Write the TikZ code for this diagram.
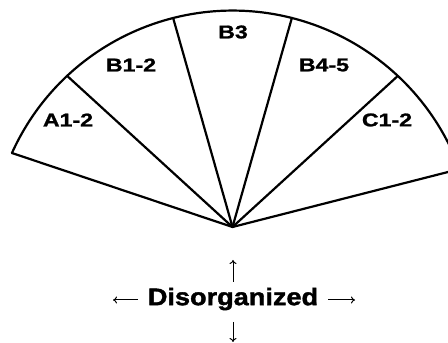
\documentclass[tikz,border=0pt]{standalone}
\usepackage{fontspec}
\setmainfont{Liberation Sans}
\newfontfamily\labfont[FakeStretch=1.25,FakeBold=1.2]{Liberation Sans}
\newfontfamily\disfont[FakeStretch=1.13,FakeBold=1.6]{Liberation Sans}
\usetikzlibrary{calc,arrows.meta}
\tikzset{
  fanline/.style={line width=2.2pt, line join=round, line cap=round},
  seclabel/.style={font=\labfont\bfseries\fontsize{18.5}{18.5}\selectfont, inner sep=0pt},
  dislabel/.style={font=\disfont\bfseries\fontsize{24}{24}\selectfont, inner sep=0pt},
  thinarrow/.style={line width=1pt, -{To[length=4pt,width=7pt]}}
}
\begin{document}
\begin{tikzpicture}[x=1pt,y=1pt]
\useasboundingbox (0,0) rectangle (448,343);
\clip (0,0) rectangle (448,343);
\coordinate (C) at (232.5,90.4);
\coordinate (O) at (232.5,116);
\foreach \n/\a in {0/155.7,1/133.1,2/104.2,3/75.8,4/46.9,5/20.2}
  \coordinate (P\n) at ($(C)+(\a:242)$);
\draw[fanline] (P0) arc[start angle=155.7, end angle=20.2, radius=242];
\foreach \n in {0,...,5}
  \draw[fanline] (O) -- (P\n);
\node[seclabel] (A) at (68,223) {A1-2};
\node[seclabel] (B12) at (131,278) {B1-2};
\node[seclabel] (B3) at (233,311) {B3};
\node[seclabel] (B45) at (324,278) {B4-5};
\node[seclabel] (C12) at (387,223) {C1-2};
\node[dislabel] (D) at (233,44) {Disorganized};
\coordinate (u0) at (233,61); \coordinate (u1) at (233,83);
\coordinate (d0) at (233,21); \coordinate (d1) at (233,1);
\coordinate (l0) at (138,43); \coordinate (l1) at (113,43);
\coordinate (r0) at (328,43); \coordinate (r1) at (355,43);
\draw[thinarrow] (u0) -- (u1);
\draw[thinarrow] (d0) -- (d1);
\draw[thinarrow] (l0) -- (l1);
\draw[thinarrow] (r0) -- (r1);
\end{tikzpicture}
\end{document}
